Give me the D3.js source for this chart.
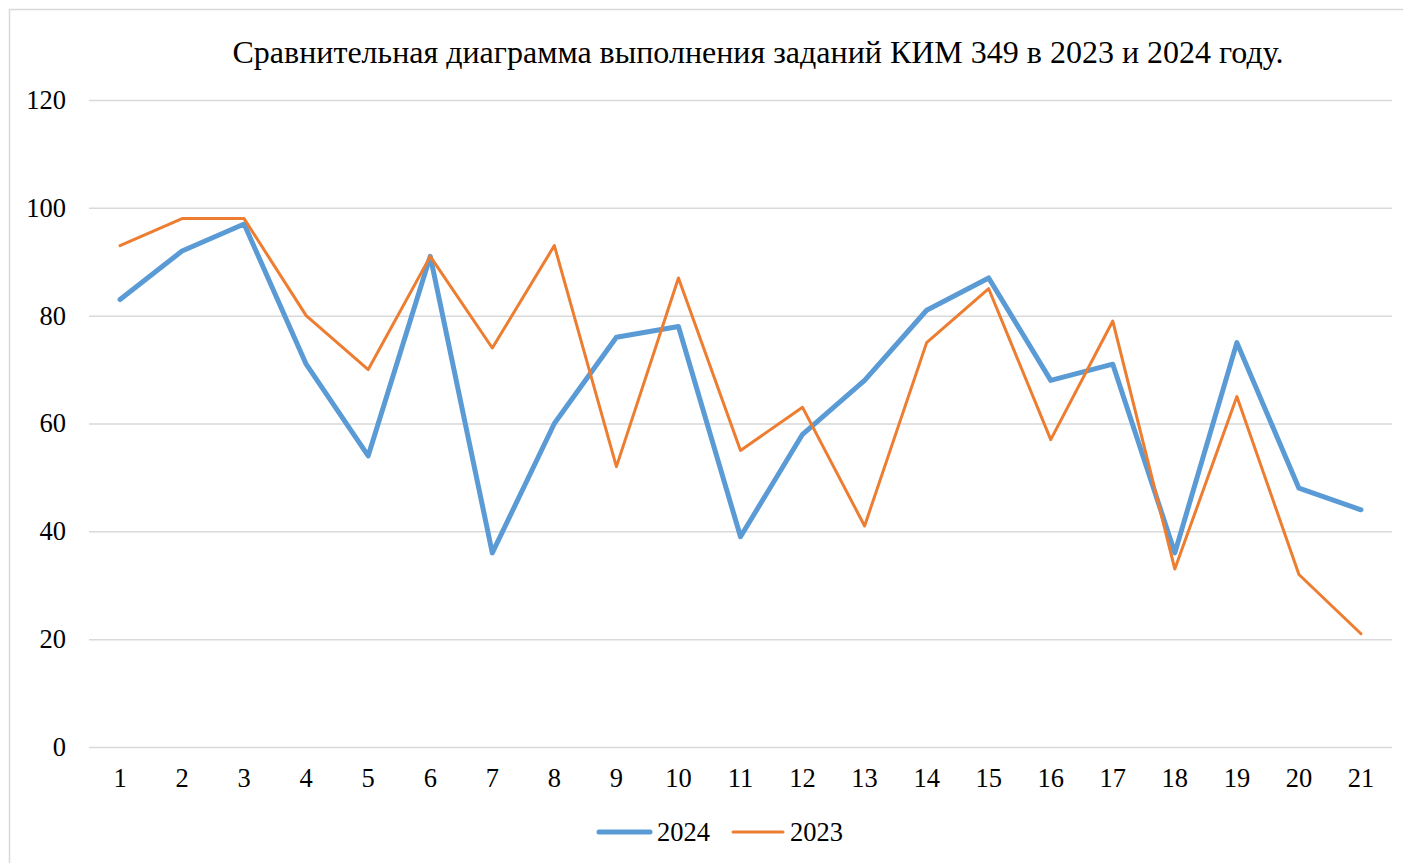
<!DOCTYPE html>
<html>
<head>
<meta charset="utf-8">
<script src="https://cdn.jsdelivr.net/npm/d3@7"></script>
<style>
  body { margin: 0; background: #fff; }
  svg text { font-family: "Liberation Serif", "Times New Roman", Times, "DejaVu Serif", serif !important; fill: #000; }
</style>
</head>
<body>
<div id="chart"></div>
<script>
var categories = ["1","2","3","4","5","6","7","8","9","10","11","12","13","14","15","16","17","18","19","20","21"];
var values2024 = [83, 92, 97, 71, 54, 91, 36, 60, 76, 78, 39, 58, 68, 81, 87, 68, 71, 36, 75, 48, 44];
var values2023 = [93, 98, 98, 80, 70, 91, 74, 93, 52, 87, 55, 63, 41, 75, 85, 57, 79, 33, 65, 32, 21];
var yTicks = [0, 20, 40, 60, 80, 100, 120];

var series = [
  { name: "2024", values: values2024, color: "#5B9BD5", width: 5 },
  { name: "2023", values: values2023, color: "#ED7D31", width: 3 }
];

var margin = { top: 100, left: 89, right: 11, bottom: 116 },
    W = 1403, H = 863,
    width = W - margin.left - margin.right,
    height = H - margin.top - margin.bottom;

var root = d3.select("#chart").append("svg")
  .attr("width", W)
  .attr("height", H);

// chart border
root.append("rect")
  .attr("x", 9.5).attr("y", 9.5)
  .attr("width", 1400).attr("height", 870)
  .attr("fill", "none")
  .attr("stroke", "#d9d9d9")
  .attr("stroke-width", 1.5);

root.append("text")
  .attr("x", 758).attr("y", 63)
  .attr("text-anchor", "middle")
  .style("font-size", "32px")
  .text("Сравнительная диаграмма выполнения заданий КИМ 349 в 2023 и 2024 году.");

var svg = root.append("g")
  .attr("transform", "translate(" + margin.left + "," + margin.top + ")");

var xScale = d3.scaleBand().domain(categories).range([0, width]);
var yScale = d3.scaleLinear().domain([0, 120]).range([height, 0]);

// gridlines + y labels
var yAxis = d3.axisLeft(yScale).tickValues(yTicks).tickSize(-width).tickPadding(23);
svg.append("g")
  .attr("class", "y-axis")
  .call(yAxis)
  .call(function(g) {
    g.attr("font-family", null);
    g.select(".domain").remove();
    g.selectAll(".tick line").attr("stroke", "#d9d9d9").attr("stroke-width", 1.5);
    g.selectAll(".tick text").style("font-size", "26.5px");
  });

var xAxis = d3.axisBottom(xScale).tickSize(0).tickPadding(21);
svg.append("g")
  .attr("class", "x-axis")
  .attr("transform", "translate(0," + height + ")")
  .call(xAxis)
  .call(function(g) {
    g.attr("font-family", null);
    g.select(".domain").remove();
    g.selectAll(".tick text").style("font-size", "26.5px");
  });

var line = d3.line()
  .x(function(d, i) { return xScale(categories[i]) + xScale.bandwidth() / 2; })
  .y(function(d) { return yScale(d); });

svg.selectAll(".series")
  .data(series)
  .enter().append("path")
  .attr("class", "series")
  .attr("d", function(d) { return line(d.values); })
  .attr("fill", "none")
  .attr("stroke", function(d) { return d.color; })
  .attr("stroke-width", function(d) { return d.width; })
  .attr("stroke-linejoin", "round")
  .attr("stroke-linecap", "round");

// legend
var legendX = [599, 733];
var legend = root.selectAll(".legend")
  .data(series)
  .enter().append("g")
  .attr("class", "legend")
  .attr("transform", function(d, i) { return "translate(" + legendX[i] + ",832)"; });

legend.append("line")
  .attr("x1", 0).attr("x2", function(d, i) { return i === 0 ? 51 : 50; })
  .attr("stroke", function(d) { return d.color; })
  .attr("stroke-width", function(d) { return d.width; })
  .attr("stroke-linecap", "round");

legend.append("text")
  .attr("x", function(d, i) { return i === 0 ? 58 : 57; }).attr("y", 9)
  .style("font-size", "26.5px")
  .text(function(d) { return d.name; });
</script>
</body>
</html>
